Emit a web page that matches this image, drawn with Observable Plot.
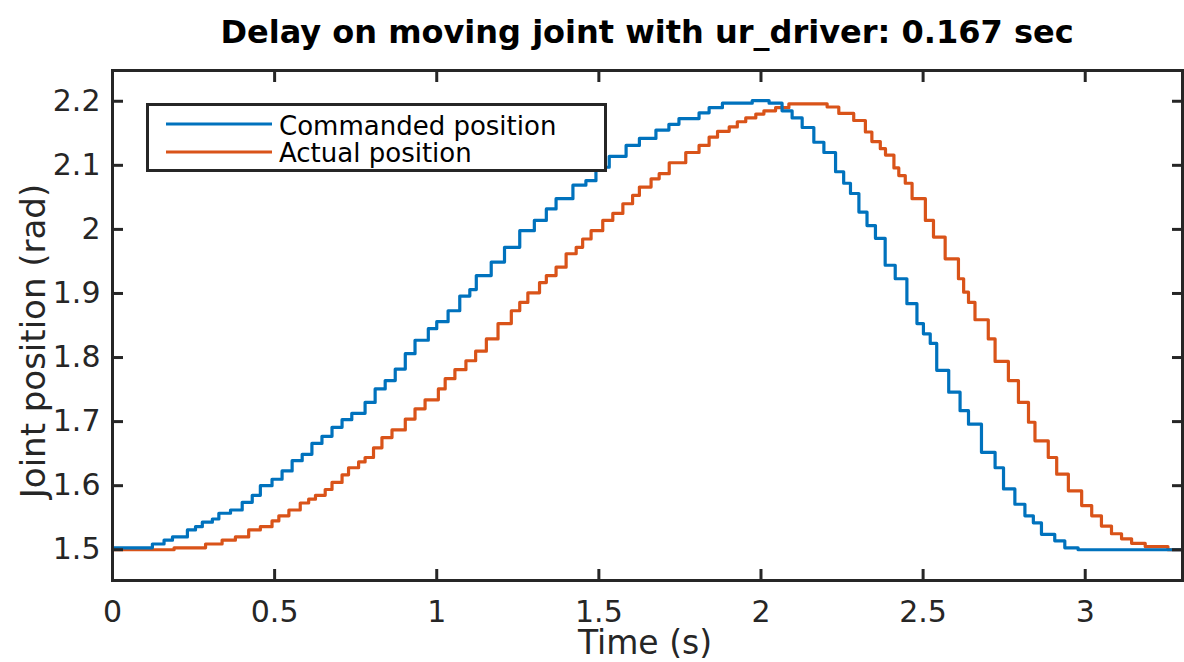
<!DOCTYPE html>
<html>
<head>
<meta charset="utf-8">
<script src="https://cdn.jsdelivr.net/npm/d3@7"></script>
<script src="https://cdn.jsdelivr.net/npm/@observablehq/plot@0.6"></script>
<style>
  html, body { margin: 0; padding: 0; background: #fff; }
  #wrap { position: relative; width: 1184px; height: 662px; overflow: hidden; font-family: "DejaVu Sans", sans-serif; color: #262626; }
  #title { position: absolute; top: 16px; left: 647px; transform: translateX(-50%); font-weight: bold; font-size: 32px; line-height: 32px; white-space: nowrap; color: #000; }
  #xlabel { position: absolute; top: 626px; left: 645px; transform: translateX(-50%); font-size: 33px; line-height: 33px; white-space: nowrap; }
  #ylabel { position: absolute; top: 341px; left: 33px; transform: translate(-50%, -50%) rotate(-90deg); font-size: 34px; line-height: 34px; white-space: nowrap; }
  #legend { position: absolute; left: 146px; top: 103px; }
</style>
</head>
<body>
<div id="wrap">
  <div id="chart"></div>
  <div id="title"></div>
  <div id="xlabel"></div>
  <div id="ylabel"></div>
  <div id="legend"></div>
</div>
<script>
const titleText = "Delay on moving joint with ur_driver: 0.167 sec";
const xLabel = "Time (s)";
const yLabel = "Joint position (rad)";
const seriesNames = ["Commanded position", "Actual position"];
const seriesColors = ["#0072BD", "#D95319"];
const xTicks = [0, 0.5, 1, 1.5, 2, 2.5, 3];
const xTickLabels = ["0", "0.5", "1", "1.5", "2", "2.5", "3"];
const yTicks = [1.5, 1.6, 1.7, 1.8, 1.9, 2.0, 2.1, 2.2];
const yTickLabels = ["1.5", "1.6", "1.7", "1.8", "1.9", "2", "2.1", "2.2"];
const xDomain = [0, 3.3];
const yDomain = [1.452, 2.248];

// Commanded position (step samples)
const tCmd = [0, 0.123, 0.159, 0.185, 0.231, 0.256, 0.277, 0.308, 0.328, 0.364, 0.4, 0.431, 0.456, 0.492, 0.523, 0.554, 0.585, 0.615, 0.646, 0.677, 0.708, 0.738, 0.779, 0.81, 0.841, 0.872, 0.903, 0.933, 0.974, 1.0, 1.035, 1.071, 1.102, 1.122, 1.168, 1.209, 1.256, 1.301, 1.338, 1.368, 1.42, 1.46, 1.491, 1.532, 1.584, 1.625, 1.676, 1.716, 1.747, 1.809, 1.84, 1.881, 1.973, 2.025, 2.065, 2.096, 2.127, 2.163, 2.194, 2.23, 2.255, 2.276, 2.302, 2.327, 2.353, 2.383, 2.414, 2.45, 2.481, 2.501, 2.522, 2.542, 2.579, 2.614, 2.64, 2.68, 2.722, 2.748, 2.783, 2.814, 2.84, 2.865, 2.906, 2.937, 2.978, 3.3];
const vCmd = [1.503, 1.509, 1.515, 1.52, 1.531, 1.536, 1.543, 1.548, 1.557, 1.562, 1.574, 1.585, 1.6, 1.61, 1.623, 1.639, 1.649, 1.666, 1.677, 1.691, 1.703, 1.713, 1.73, 1.751, 1.764, 1.782, 1.806, 1.827, 1.845, 1.856, 1.873, 1.896, 1.906, 1.928, 1.949, 1.972, 1.998, 2.014, 2.032, 2.048, 2.069, 2.076, 2.097, 2.114, 2.131, 2.142, 2.155, 2.164, 2.173, 2.182, 2.19, 2.197, 2.201, 2.197, 2.185, 2.174, 2.159, 2.136, 2.12, 2.09, 2.072, 2.056, 2.027, 2.006, 1.986, 1.944, 1.923, 1.884, 1.853, 1.837, 1.822, 1.78, 1.746, 1.717, 1.696, 1.652, 1.628, 1.595, 1.571, 1.553, 1.542, 1.524, 1.514, 1.503, 1.5, 1.5];

// Actual position (step samples)
const tAct = [0, 0.19, 0.287, 0.338, 0.379, 0.42, 0.456, 0.492, 0.513, 0.544, 0.579, 0.605, 0.626, 0.656, 0.677, 0.708, 0.728, 0.759, 0.779, 0.805, 0.831, 0.862, 0.903, 0.933, 0.964, 1.005, 1.026, 1.056, 1.09, 1.12, 1.153, 1.189, 1.23, 1.256, 1.281, 1.317, 1.338, 1.368, 1.399, 1.43, 1.45, 1.476, 1.512, 1.543, 1.574, 1.604, 1.625, 1.661, 1.686, 1.717, 1.768, 1.809, 1.84, 1.866, 1.902, 1.927, 1.953, 1.984, 2.009, 2.045, 2.086, 2.204, 2.24, 2.286, 2.322, 2.342, 2.368, 2.384, 2.41, 2.425, 2.445, 2.466, 2.507, 2.532, 2.568, 2.609, 2.625, 2.64, 2.66, 2.701, 2.722, 2.763, 2.794, 2.825, 2.845, 2.886, 2.912, 2.948, 2.989, 3.02, 3.05, 3.081, 3.112, 3.143, 3.185, 3.255, 3.3];
const vAct = [1.5, 1.503, 1.509, 1.515, 1.52, 1.531, 1.536, 1.545, 1.553, 1.562, 1.573, 1.579, 1.585, 1.594, 1.605, 1.617, 1.628, 1.637, 1.644, 1.659, 1.675, 1.687, 1.704, 1.72, 1.734, 1.751, 1.767, 1.781, 1.795, 1.81, 1.829, 1.853, 1.873, 1.886, 1.901, 1.917, 1.928, 1.941, 1.962, 1.972, 1.985, 1.998, 2.014, 2.025, 2.04, 2.053, 2.066, 2.079, 2.087, 2.104, 2.12, 2.131, 2.144, 2.153, 2.16, 2.168, 2.174, 2.18, 2.185, 2.19, 2.196, 2.191, 2.181, 2.17, 2.152, 2.137, 2.126, 2.116, 2.096, 2.084, 2.072, 2.048, 2.014, 1.988, 1.954, 1.923, 1.902, 1.886, 1.859, 1.829, 1.794, 1.764, 1.73, 1.699, 1.67, 1.644, 1.618, 1.592, 1.569, 1.553, 1.537, 1.525, 1.517, 1.51, 1.505, 1.5, 1.5];

const cmd = tCmd.map((t, i) => ({t, v: vCmd[i]}));
const act = tAct.map((t, i) => ({t, v: vAct[i]}));
const axisColor = "#262626";
const tickLen = 11;

const chart = Plot.plot({
  width: 1184,
  height: 662,
  marginTop: 70,
  marginBottom: 82,
  marginLeft: 112,
  marginRight: 2,
  style: {fontFamily: "DejaVu Sans, sans-serif", fontSize: "30px", color: axisColor, background: "#fff"},
  x: {domain: xDomain},
  y: {domain: yDomain},
  marks: [
    Plot.line(act, {x: "t", y: "v", curve: "step-after", stroke: seriesColors[1], strokeWidth: 3.2}),
    Plot.line(cmd, {x: "t", y: "v", curve: "step-after", stroke: seriesColors[0], strokeWidth: 3.2}),
    // inward tick marks on all four sides of the box
    Plot.axisX(xTicks, {anchor: "bottom", tickSize: tickLen, dy: -tickLen, stroke: axisColor, strokeWidth: 3, label: null, tickFormat: () => ""}),
    Plot.axisX(xTicks, {anchor: "top", tickSize: tickLen, dy: tickLen, stroke: axisColor, strokeWidth: 3, label: null, tickFormat: () => ""}),
    Plot.axisY(yTicks, {anchor: "left", tickSize: -tickLen, stroke: axisColor, strokeWidth: 3, label: null, tickFormat: () => ""}),
    Plot.axisY(yTicks, {anchor: "right", tickSize: -tickLen, stroke: axisColor, strokeWidth: 3, label: null, tickFormat: () => ""}),
    Plot.frame({stroke: axisColor, strokeWidth: 3}),
    Plot.axisX(xTicks, {anchor: "bottom", tickSize: 0, tickPadding: 20, fontSize: 30, fill: axisColor, label: null, tickFormat: (d) => xTickLabels[xTicks.indexOf(d)]}),
    Plot.axisY(yTicks, {anchor: "left", tickSize: 0, tickPadding: 12, fontSize: 30, fill: axisColor, label: null, tickFormat: (d) => yTickLabels[yTicks.indexOf(d)]})
  ]
});
document.getElementById("chart").appendChild(chart);

document.getElementById("title").textContent = titleText;
document.getElementById("xlabel").textContent = xLabel;
document.getElementById("ylabel").textContent = yLabel;

// Legend
const lw = 461, lh = 69;
const leg = d3.select("#legend").append("svg")
  .attr("width", lw).attr("height", lh)
  .style("display", "block");
leg.append("rect").attr("x", 1.5).attr("y", 1.5).attr("width", lw - 3).attr("height", lh - 3)
  .attr("fill", "#fff").attr("stroke", axisColor).attr("stroke-width", 3);
seriesNames.forEach((name, i) => {
  const cy = 21 + i * 28;
  leg.append("line").attr("x1", 20).attr("x2", 126).attr("y1", cy).attr("y2", cy)
    .attr("stroke", seriesColors[i]).attr("stroke-width", 3);
  leg.append("text").attr("x", 133).attr("y", 32 + i * 27)
    .attr("font-family", "DejaVu Sans, sans-serif").attr("font-size", 26)
    .attr("fill", "#000").text(name);
});
</script>
</body>
</html>
